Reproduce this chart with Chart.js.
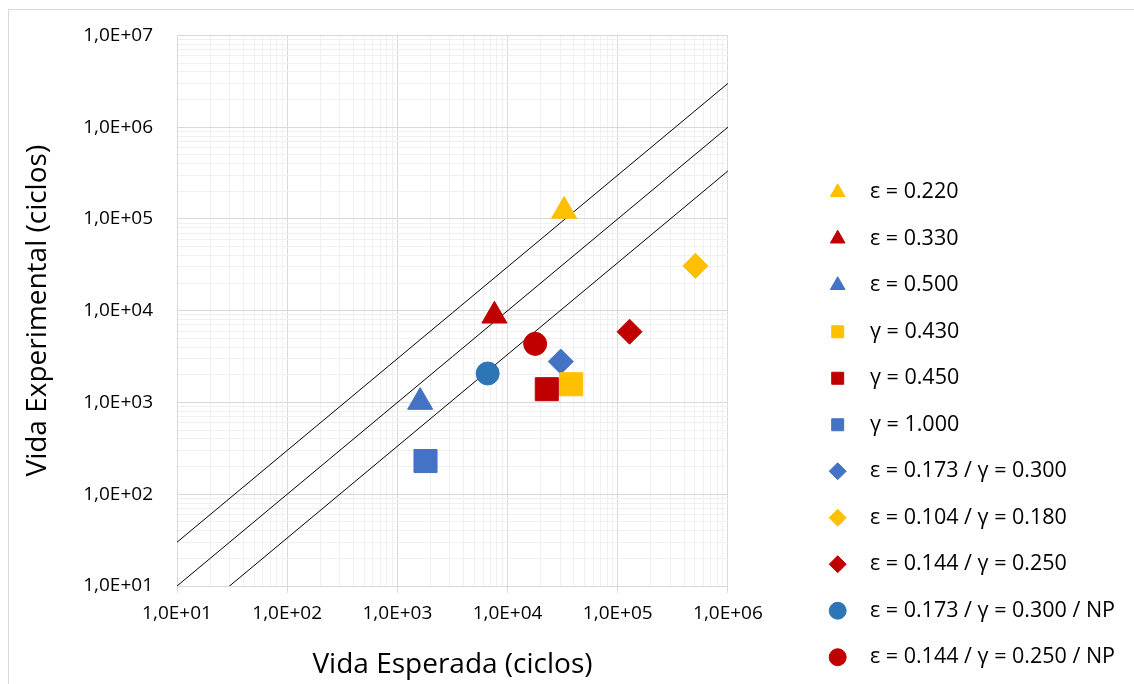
<!DOCTYPE html>
<html>
<head>
<meta charset="utf-8">
<script src="https://cdn.jsdelivr.net/npm/chart.js@4.4.1/dist/chart.umd.min.js"></script>
<style>
  html, body { margin: 0; padding: 0; background: #fff; overflow: hidden; }
  #wrap { position: relative; width: 1134px; height: 684px; }
  #frame { position: absolute; left: 8px; top: 9px; width: 1200px; height: 800px;
           border: 1.5px solid #D9D9D9; pointer-events: none; }
</style>
</head>
<body>
<div id="wrap">
  <canvas id="myChart" width="1134" height="684"></canvas>
  <div id="frame"></div>
</div>
<script>
// series
const seriesLabels = [
    'ε = 0.220', 'ε = 0.330', 'ε = 0.500',
    'γ = 0.430', 'γ = 0.450', 'γ = 1.000',
    'ε = 0.173 / γ = 0.300', 'ε = 0.104 / γ = 0.180', 'ε = 0.144 / γ = 0.250',
    'ε = 0.173 / γ = 0.300 / NP', 'ε = 0.144 / γ = 0.250 / NP'
];
const expectedLife = [32600, 7600, 1610, 37800, 22700, 1800, 30400, 507000, 128000, 6600, 17800];
const experimentalLife = [122000, 8800, 1010, 1580, 1395, 230, 2790, 30800, 5900, 2070, 4350];
const seriesColors = ['#FFC000', '#C00000', '#4472C4', '#FFC000', '#C00000', '#4472C4',
    '#4472C4', '#FFC000', '#C00000', '#2E75B6', '#C00000'];
const seriesShapes = ['triangle', 'triangle', 'triangle', 'rect', 'rect', 'rect',
    'rectRot', 'rectRot', 'rectRot', 'circle', 'circle'];

// scatter band lines: N_exp = factor * N_esp
const guideFactors = [3, 1, 1 / 3];
const guideX = [1e1, 1e6];

const xDecades = [1e1, 1e2, 1e3, 1e4, 1e5, 1e6];
const yDecades = [1e1, 1e2, 1e3, 1e4, 1e5, 1e6, 1e7];
const xTickLabels = ['1,0E+01', '1,0E+02', '1,0E+03', '1,0E+04', '1,0E+05', '1,0E+06'];
const yTickLabels = ['1,0E+01', '1,0E+02', '1,0E+03', '1,0E+04', '1,0E+05', '1,0E+06', '1,0E+07'];

const shapeRadius = {triangle: 14.5, rect: 16.3, rectRot: 12.5, circle: 11.5};

Chart.defaults.font.family = "'Open Sans', sans-serif";
Chart.defaults.color = '#000';

function logTicks(decades) {
    const t = [];
    decades.forEach((d, i) => {
        t.push({value: d});
        if (i < decades.length - 1) {
            for (let k = 2; k <= 9; k++) t.push({value: d * k});
        }
    });
    return t;
}

const pointSets = seriesLabels.map((label, i) => ({
    label: label,
    data: [{x: expectedLife[i], y: experimentalLife[i]}],
    pointStyle: seriesShapes[i],
    pointRadius: shapeRadius[seriesShapes[i]],
    pointHoverRadius: shapeRadius[seriesShapes[i]],
    backgroundColor: seriesColors[i],
    borderColor: seriesColors[i],
    borderWidth: 1
}));

const lineSets = guideFactors.map(f => ({
    label: '',
    data: guideX.map(x => ({x: x, y: x * f})),
    showLine: true,
    pointRadius: 0,
    borderColor: '#000',
    borderWidth: 1
}));

new Chart(document.getElementById('myChart'), {
    type: 'scatter',
    data: {datasets: pointSets.concat(lineSets)},
    options: {
        responsive: false,
        animation: false,
        devicePixelRatio: 1,
        layout: {padding: {top: 34, right: 9, bottom: -9, left: 0}},
        plugins: {
            tooltip: {enabled: false},
            legend: {
                position: 'right',
                align: 'end',
                maxWidth: 400,
                labels: {
                    usePointStyle: true,
                    boxHeight: 12,
                    padding: 25,
                    color: '#000',
                    font: {size: 21.5},
                    filter: item => item.datasetIndex < seriesLabels.length,
                    generateLabels: chart => Chart.defaults.plugins.legend.labels.generateLabels(chart)
                        .map(item => Object.assign(item, {text: '\u2002' + item.text}))
                }
            }
        },
        scales: {
            x: {
                type: 'logarithmic',
                min: 1e1,
                max: 1e6,
                afterBuildTicks: s => { s.ticks = logTicks(xDecades); },
                afterFit: s => { s.height = 107; },
                grid: {
                    color: c => xDecades.includes(c.tick.value) ? '#D9D9D9' : '#F0F0F0',
                    tickColor: c => xDecades.includes(c.tick.value) ? '#D9D9D9' : 'rgba(0,0,0,0)',
                    tickLength: 7,
                    lineWidth: 1
                },
                border: {color: '#D9D9D9'},
                ticks: {
                    autoSkip: false,
                    maxRotation: 0,
                    minRotation: 0,
                    padding: 9,
                    font: {size: 19},
                    callback: v => {
                        const i = xDecades.indexOf(v);
                        return i >= 0 ? xTickLabels[i] : '';
                    }
                },
                title: {
                    display: true,
                    text: 'Vida Esperada (ciclos)',
                    font: {size: 28},
                    padding: {top: 0, bottom: 11}
                }
            },
            y: {
                type: 'logarithmic',
                min: 1e1,
                max: 1e7,
                afterBuildTicks: s => { s.ticks = logTicks(yDecades); },
                afterFit: s => { s.width = 177; },
                grid: {
                    color: c => yDecades.includes(c.tick.value) ? '#D9D9D9' : '#F0F0F0',
                    drawTicks: false,
                    lineWidth: 1
                },
                border: {color: '#D9D9D9'},
                ticks: {
                    autoSkip: false,
                    padding: 24,
                    font: {size: 19},
                    callback: v => {
                        const i = yDecades.indexOf(v);
                        return i >= 0 ? yTickLabels[i] : '';
                    }
                },
                title: {
                    display: true,
                    text: 'Vida Experimental (ciclos)',
                    font: {size: 28},
                    padding: {top: 21, bottom: 0}
                }
            },
            gap: {
                type: 'linear',
                position: 'right',
                display: true,
                grid: {display: false},
                border: {display: false},
                ticks: {display: false},
                afterFit: s => { s.width = 74; }
            }
        }
    }
});
</script>
</body>
</html>
